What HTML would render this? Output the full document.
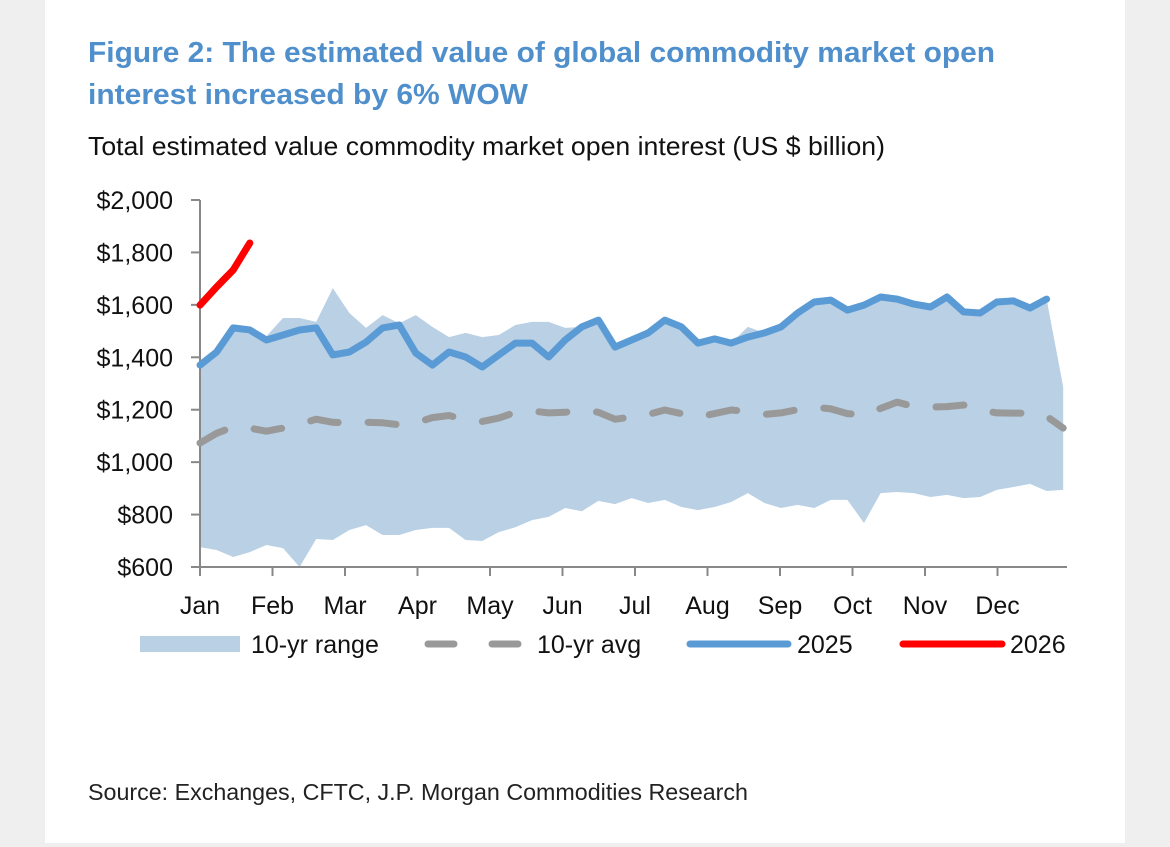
<!DOCTYPE html>
<html><head><meta charset="utf-8"><style>
html,body{margin:0;padding:0;background:#efefef;}
#wrap{position:relative;width:1170px;height:847px;overflow:hidden;}
#panel{position:absolute;left:45px;top:0;width:1080px;height:843px;background:#fff;}
svg{position:absolute;left:0;top:0;}
text{font-family:"Liberation Sans",Arial,sans-serif;}
</style></head><body>
<div id="wrap">
<div id="panel"></div>
<svg id="chart" width="1170" height="847">
<text x="88" y="62" font-size="29" font-weight="bold" fill="#4f8fcc" textLength="907" lengthAdjust="spacingAndGlyphs">Figure 2: The estimated value of global commodity market open</text>
<text x="88" y="104" font-size="29" font-weight="bold" fill="#4f8fcc" textLength="440" lengthAdjust="spacingAndGlyphs">interest increased by 6% WOW</text>
<text x="88" y="155" font-size="26" fill="#111" textLength="797" lengthAdjust="spacingAndGlyphs">Total estimated value commodity market open interest (US $ billion)</text>
<text x="88" y="800" font-size="23" fill="#222" textLength="660" lengthAdjust="spacingAndGlyphs">Source: Exchanges, CFTC, J.P. Morgan Commodities Research</text>
<g id="plot"></g>
<g id="legend"></g>
</svg>
</div>
<script>
const months = ["Jan","Feb","Mar","Apr","May","Jun","Jul","Aug","Sep","Oct","Nov","Dec"];
const yTicks = [600,800,1000,1200,1400,1600,1800,2000];
const yTickLabels = ["$600","$800","$1,000","$1,200","$1,400","$1,600","$1,800","$2,000"];
const rangeUpper = [1370,1420,1500,1490,1480,1550,1550,1535,1664,1569,1512,1561,1530,1561,1516,1477,1493,1477,1485,1523,1535,1535,1512,1516,1542,1439,1466,1493,1542,1516,1454,1470,1454,1516,1493,1516,1569,1611,1618,1580,1599,1630,1622,1603,1592,1630,1573,1569,1611,1615,1588,1622,1287];
const rangeLower = [676,665,638,657,684,672,600,707,703,741,760,722,722,741,749,749,703,699,733,752,779,791,825,813,852,840,863,844,856,829,817,829,848,882,844,825,837,825,856,856,768,882,886,882,867,875,863,867,894,905,917,890,894];
const avg10 = [1073,1110,1134,1130,1118,1130,1145,1164,1152,1150,1152,1150,1143,1150,1170,1178,1162,1155,1168,1190,1195,1188,1190,1199,1190,1164,1172,1182,1199,1185,1172,1185,1199,1193,1182,1188,1200,1210,1203,1185,1180,1205,1229,1212,1210,1212,1218,1199,1188,1187,1187,1175,1130];
const y2025 = [1370,1420,1512,1504,1466,1485,1504,1512,1409,1420,1458,1512,1523,1416,1370,1420,1401,1363,1409,1454,1454,1401,1466,1516,1542,1439,1466,1493,1542,1516,1454,1470,1454,1477,1493,1516,1569,1611,1618,1580,1599,1630,1622,1603,1592,1630,1573,1569,1611,1615,1588,1622];
const y2026 = [1599,1668,1733,1836];

const NS="http://www.w3.org/2000/svg";
const X0=200, WK=16.6, Y0=567, YS=(567-200)/1400;
const xw=i=>X0+i*WK;
const yv=v=>Y0-(v-600)*YS;
const plot=document.getElementById('plot');
function mk(tag,attrs,parent){const e=document.createElementNS(NS,tag);for(const k in attrs)e.setAttribute(k,attrs[k]);(parent||plot).appendChild(e);return e;}
function pts(arr){return arr.map((v,i)=>xw(i).toFixed(1)+","+yv(v).toFixed(1)).join(" ");}

// range area
let poly=rangeUpper.map((v,i)=>[xw(i),yv(v)]);
for(let i=rangeLower.length-1;i>=0;i--)poly.push([xw(i),yv(rangeLower[i])]);
const area=mk('polygon',{points:poly.map(p=>p[0].toFixed(1)+","+p[1].toFixed(1)).join(" "),fill:"#b9d0e5"});



// axes
const ya=mk('line',{x1:200,y1:200,x2:200,y2:567,stroke:"#888","stroke-width":2});


const xa=mk('line',{x1:200,y1:567,x2:1067,y2:567,stroke:"#888","stroke-width":2});


yTicks.forEach((t,i)=>{
  const tk=mk('line',{x1:191,y1:yv(t),x2:200,y2:yv(t),stroke:"#888","stroke-width":2});
  
  
  const lb=mk('text',{x:173,y:yv(t)+9,"font-size":25,"text-anchor":"end",fill:"#111"});
  lb.textContent=yTickLabels[i];
  
  
});
months.forEach((m,i)=>{
  const x=X0+i*72.5;
  const tk=mk('line',{x1:x,y1:567,x2:x,y2:576,stroke:"#888","stroke-width":2});
  
  
  const lb=mk('text',{x:x,y:614,"font-size":25,"text-anchor":"middle",fill:"#111"});
  lb.textContent=m;
  
  
});

const avgL=mk('polyline',{points:pts(avg10),fill:"none",stroke:"#999","stroke-width":7,"stroke-dasharray":"28 30","stroke-linecap":"round","stroke-linejoin":"round"});


const l25=mk('polyline',{points:pts(y2025),fill:"none",stroke:"#5b9bd5","stroke-width":7,"stroke-linecap":"round","stroke-linejoin":"round"});


const l26=mk('polyline',{points:pts(y2026),fill:"none",stroke:"#ff0000","stroke-width":7,"stroke-linecap":"round","stroke-linejoin":"round"});



// legend
const lg=document.getElementById('legend');
const r=mk('rect',{x:140,y:636,width:100,height:16,fill:"#b9d0e5"},lg);


const d=mk('line',{x1:428,y1:644,x2:518,y2:644,stroke:"#999","stroke-width":7,"stroke-dasharray":"26 38","stroke-linecap":"round"},lg);


const b=mk('line',{x1:690,y1:644,x2:788,y2:644,stroke:"#5b9bd5","stroke-width":7,"stroke-linecap":"round"},lg);


const rd=mk('line',{x1:903,y1:644,x2:1002,y2:644,stroke:"#ff0000","stroke-width":7,"stroke-linecap":"round"},lg);


[["10-yr range",251,"legend-label-range"],["10-yr avg",537,"legend-label-avg"],["2025",797,"legend-label-2025"],["2026",1010,"legend-label-2026"]].forEach(a=>{
  const t=mk('text',{x:a[1],y:653,"font-size":25,fill:"#111"},lg);
  t.textContent=a[0];
  
  
});
</script>
</body></html>
